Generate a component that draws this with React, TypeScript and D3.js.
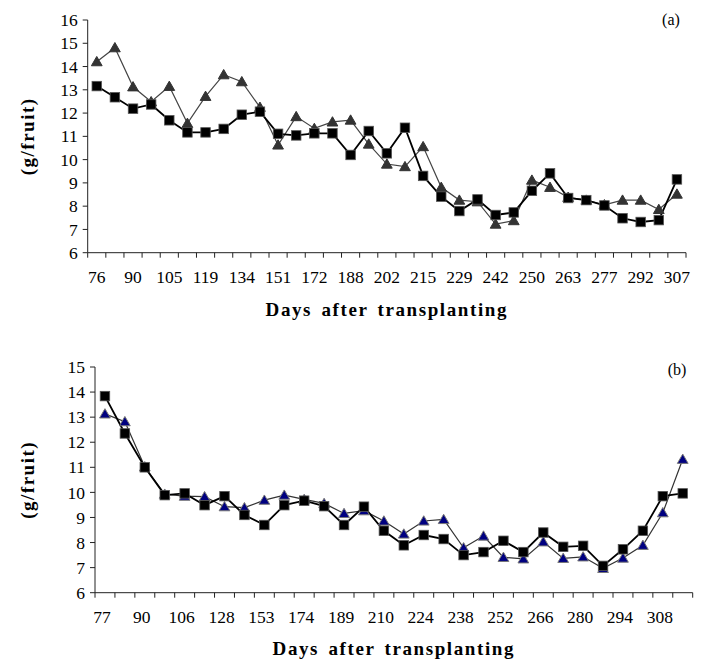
import React from "react";
import * as d3 from "d3";

// ---------- Panel (a) data ----------
const labelsA = ["76", "90", "105", "119", "134", "151", "172", "188", "202", "215", "229", "242", "250", "263", "277", "292", "307"];
const squaresA = [13.16, 12.68, 12.19, 12.37, 11.69, 11.17, 11.17, 11.32, 11.93, 12.06, 11.11, 11.04, 11.13, 11.13, 10.2, 11.23, 10.27,
  11.37, 9.3, 8.41, 7.79, 8.29, 7.62, 7.73, 8.66, 9.41, 8.35, 8.26, 8.03, 7.48, 7.32, 7.4, 9.15];
const trianglesA = [14.21, 14.81, 13.13, 12.49, 13.15, 11.56, 12.72, 13.65, 13.35, 12.25, 10.63, 11.85, 11.34, 11.62, 11.7, 10.67, 9.81,
  9.7, 10.56, 8.81, 8.26, 8.19, 7.23, 7.38, 9.12, 8.81, 8.38, 8.26, 8.06, 8.26, 8.26, 7.86, 8.52];
const yTicksA = [6, 7, 8, 9, 10, 11, 12, 13, 14, 15, 16];

// ---------- Panel (b) data ----------
const labelsB = ["77", "90", "106", "128", "153", "174", "189", "210", "224", "238", "252", "266", "280", "294", "308"];
const squaresB = [13.84, 12.35, 11.0, 9.89, 9.96, 9.49, 9.85, 9.1, 8.7, 9.49, 9.67, 9.45, 8.7, 9.43, 8.47,
  7.89, 8.3, 8.14, 7.5, 7.62, 8.07, 7.62, 8.4, 7.83, 7.87, 7.07, 7.73, 8.47, 9.85, 9.96];
const trianglesB = [13.13, 12.82, 11.02, 9.93, 9.85, 9.83, 9.43, 9.39, 9.69, 9.89, 9.72, 9.56, 9.16, 9.27, 8.86,
  8.34, 8.86, 8.92, 7.79, 8.26, 7.41, 7.35, 8.03, 7.37, 7.43, 6.97, 7.38, 7.89, 9.19, 11.32];
const yTicksB = [6, 7, 8, 9, 10, 11, 12, 13, 14, 15];

const FONT = "Liberation Serif, Times New Roman, serif";

type PanelProps = {
  left: number; right: number; top: number; bottom: number;
  yMin: number; yMax: number; yTicks: number[];
  labels: string[]; squares: number[]; triangles: number[];
  triFill: string; triStroke: string; triLine: string;
  tag: string; tagX: number; tagY: number;
  titleY: number; labelDx: number; ylabelX: number;
};

function Panel(p: PanelProps) {
  const n = p.squares.length;
  const idx = d3.range(n);
  const x = d3.scaleBand<number>().domain(idx).range([p.left, p.right]).padding(0);
  const cx = (i: number) => (x(i) as number) + x.bandwidth() / 2;
  const y = d3.scaleLinear().domain([p.yMin, p.yMax]).range([p.bottom, p.top]);
  const line = d3.line<number>().x((_, i) => cx(i)).y((v) => y(v));
  const sq = 9.5;
  const tri = d3.symbol().type(d3.symbolTriangle).size(50)();
  const tickPos = d3.range(n + 1).map((i) => p.left + i * x.bandwidth());
  const midY = (p.top + p.bottom) / 2;
  return (
    <g>
      <line x1={p.left} x2={p.left} y1={p.top} y2={p.bottom} stroke="#222" strokeWidth={1} />
      <line x1={p.left} x2={p.right} y1={p.bottom} y2={p.bottom} stroke="#222" strokeWidth={1} />
      {p.yTicks.map((t) => (
        <g key={"y" + t}>
          <line x1={p.left - 5} x2={p.left} y1={y(t)} y2={y(t)} stroke="#222" />
          <text x={p.left - 10} y={y(t)} dy="0.35em" textAnchor="end" fontSize={17.5} fontFamily={FONT}>{t}</text>
        </g>
      ))}
      {tickPos.map((tx, i) => (
        <line key={"xt" + i} x1={tx} x2={tx} y1={p.bottom} y2={p.bottom + 5} stroke="#222" />
      ))}
      {p.labels.map((l, k) => (
        <text key={"xl" + k} x={cx(k * 2) + p.labelDx} y={p.bottom + 30} textAnchor="middle" fontSize={17.5} fontFamily={FONT}>{l}</text>
      ))}
      <text x={(p.left + p.right) / 2} y={p.titleY} textAnchor="middle" fontSize={19} fontWeight="bold"
        fontFamily={FONT} letterSpacing={1.6} wordSpacing={3}>Days after transplanting</text>
      <text transform={`translate(${p.ylabelX},${midY}) rotate(-90)`} textAnchor="middle" fontSize={19} fontWeight="bold"
        fontFamily={FONT} letterSpacing={1.5} dy="0.35em">(g/fruit)</text>
      <text x={p.tagX} y={p.tagY} textAnchor="middle" fontSize={16} fontFamily={FONT}>{p.tag}</text>
      <path d={line(p.triangles) || ""} fill="none" stroke={p.triLine} strokeWidth={1.2} />
      <path d={line(p.squares) || ""} fill="none" stroke="#000" strokeWidth={1.8} />
      {p.triangles.map((v, i) => (
        <path key={"t" + i} d={tri || ""} transform={`translate(${cx(i)},${y(v) + 1})`} fill={p.triFill} stroke={p.triStroke} strokeWidth={1} />
      ))}
      {p.squares.map((v, i) => (
        <rect key={"s" + i} x={cx(i) - sq / 2} y={y(v) - sq / 2} width={sq} height={sq} fill="#000" stroke="#555" strokeWidth={0.8} />
      ))}
    </g>
  );
}

export default function App() {
  return (
    <svg width={703} height={662} style={{ position: "absolute", left: 0, top: 0, background: "#fff" }}>
      <rect width={703} height={662} fill="#fff" />
      <Panel left={87.7} right={686} top={20} bottom={252.7} yMin={6} yMax={16} yTicks={yTicksA}
        labels={labelsA} squares={squaresA} triangles={trianglesA}
        triFill="#333" triStroke="#333" triLine="#444" tag="(a)" tagX={671} tagY={25}
        titleY={316} labelDx={0} ylabelX={27} />
      <Panel left={95} right={692.7} top={367} bottom={592.7} yMin={6} yMax={15} yTicks={yTicksB}
        labels={labelsB} squares={squaresB} triangles={trianglesB}
        triFill="#000080" triStroke="#777" triLine="#333" tag="(b)" tagX={677} tagY={375}
        titleY={655} labelDx={-3} ylabelX={27} />
    </svg>
  );
}
